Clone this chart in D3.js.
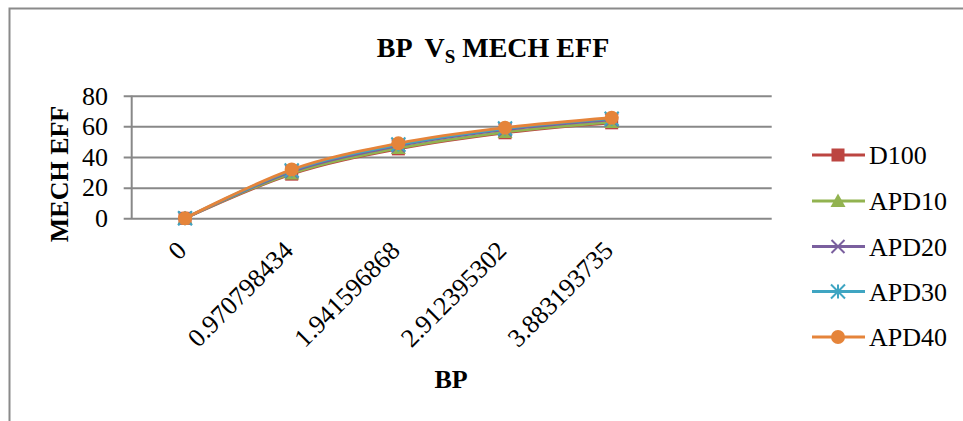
<!DOCTYPE html>
<html>
<head>
<meta charset="utf-8">
<script src="https://cdn.jsdelivr.net/npm/d3@7/dist/d3.min.js"></script>
<style>
  html, body { margin: 0; padding: 0; background: #fff; }
  svg { display: block; }
  text { font-family: "Liberation Serif", "Times New Roman", serif; fill: #000; }
</style>
</head>
<body>
<svg id="chart" width="963" height="421"></svg>
<script>
// Brake power categories (the last band is left empty)
const bpLabels = ["0", "0.970798434", "1.941596868", "2.912395302", "3.883193735", ""];
const yTicks = [0, 20, 40, 60, 80];

// Mechanical efficiency per fuel blend
const seriesNames = ["D100", "APD10", "APD20", "APD30", "APD40"];
const d100  = [0, 28.8, 45.3, 55.8, 62.3];
const apd10 = [0, 29.3, 45.8, 56.3, 62.8];
const apd20 = [0, 30.5, 47.3, 57.8, 64.2];
const apd30 = [0, 31.2, 48.2, 58.6, 65.0];
const apd40 = [0, 31.8, 48.9, 59.1, 65.6];

const seriesValues = [d100, apd10, apd20, apd30, apd40];
const colors = ["#BC4541", "#92B350", "#7A5F9E", "#3FA5C2", "#E5843A"];
const shapes = ["square", "triangle", "x", "asterisk", "circle"];

const svg = d3.select("#chart");

// outer frame
svg.append("rect")
  .attr("x", 9.5).attr("y", 8.5)
  .attr("width", 980).attr("height", 440)
  .attr("fill", "none").attr("stroke", "#8a8a8a").attr("stroke-width", 2);

const plot = { left: 131.7, right: 771.7, top: 95.7, bottom: 218.3 };

const x = d3.scaleBand().domain(bpLabels.map((d, i) => i))
  .range([plot.left, plot.right]).paddingInner(0).paddingOuter(0);
const y = d3.scaleLinear().domain([0, 80]).range([plot.bottom, plot.top]);

// horizontal gridlines with tick stubs
const yAxis = d3.axisLeft(y).tickValues(yTicks)
  .tickSize(-(plot.right - plot.left)).tickPadding(0).tickFormat("");
const gy = svg.append("g").attr("transform", `translate(${plot.left},0)`).call(yAxis);
gy.select(".domain").remove();
gy.selectAll(".tick line").attr("stroke", "#888").attr("stroke-width", 2)
  .attr("x1", -8);

// y axis line
svg.append("line")
  .attr("x1", plot.left).attr("x2", plot.left)
  .attr("y1", plot.top).attr("y2", plot.bottom)
  .attr("stroke", "#888").attr("stroke-width", 2);

// y tick labels
svg.append("g").selectAll("text").data(yTicks).join("text")
  .attr("x", 108).attr("y", d => y(d)).attr("dy", "0.34em")
  .attr("text-anchor", "end").attr("font-size", 26)
  .text(d => d);

// x tick labels, rotated
svg.append("g").selectAll("text").data(bpLabels).join("text")
  .attr("transform", (d, i) => `translate(${x(i) + x.bandwidth() / 2 + 3},252) rotate(-45)`)
  .attr("text-anchor", "end").attr("font-size", 26)
  .text(d => d);

// titles
const title = svg.append("text")
  .attr("x", 493).attr("y", 57).attr("text-anchor", "middle")
  .attr("font-size", 28).attr("font-weight", "bold")
  .style("white-space", "pre");
title.append("tspan").text("BP  V");
title.append("tspan").attr("font-size", 19).attr("dy", 6).text("S");
title.append("tspan").attr("dy", -6).text(" MECH EFF");

svg.append("text")
  .attr("transform", "translate(68,174) rotate(-90)")
  .attr("text-anchor", "middle").attr("font-size", 26).attr("font-weight", "bold")
  .text("MECH EFF");

svg.append("text")
  .attr("x", 451).attr("y", 388).attr("text-anchor", "middle")
  .attr("font-size", 26).attr("font-weight", "bold")
  .text("BP");

// marker drawing
function drawMarker(g, shape, color, cx, cy) {
  if (shape === "square") {
    g.append("rect").attr("x", cx - 6.5).attr("y", cy - 6.5)
      .attr("width", 13).attr("height", 13).attr("fill", color);
  } else if (shape === "triangle") {
    g.append("path")
      .attr("d", `M${cx},${cy - 7.5}L${cx + 7.5},${cy + 6}L${cx - 7.5},${cy + 6}Z`)
      .attr("fill", color);
  } else if (shape === "x") {
    g.append("path")
      .attr("d", `M${cx - 6.5},${cy - 6.5}L${cx + 6.5},${cy + 6.5}M${cx - 6.5},${cy + 6.5}L${cx + 6.5},${cy - 6.5}`)
      .attr("stroke", color).attr("stroke-width", 2).attr("fill", "none");
  } else if (shape === "asterisk") {
    g.append("path")
      .attr("d", `M${cx - 7},${cy - 7}L${cx + 7},${cy + 7}M${cx - 7},${cy + 7}L${cx + 7},${cy - 7}M${cx},${cy - 7}L${cx},${cy + 7}`)
      .attr("stroke", color).attr("stroke-width", 2).attr("fill", "none");
  } else {
    g.append("circle").attr("cx", cx).attr("cy", cy).attr("r", 7).attr("fill", color);
  }
}

// series lines and markers
const line = d3.line()
  .x((d, i) => x(i) + x.bandwidth() / 2)
  .y(d => y(d))
  .curve(d3.curveCardinal.tension(0));

seriesValues.forEach((vals, s) => {
  const g = svg.append("g");
  g.append("path").datum(vals).attr("d", line)
    .attr("fill", "none").attr("stroke", colors[s]).attr("stroke-width", 2.8);
  vals.forEach((v, i) => drawMarker(g, shapes[s], colors[s], x(i) + x.bandwidth() / 2, y(v)));
});

// legend
const legendY = [155, 201, 246.5, 291.5, 337];
seriesNames.forEach((name, s) => {
  const g = svg.append("g");
  const ly = legendY[s];
  g.append("line").attr("x1", 812).attr("x2", 865).attr("y1", ly).attr("y2", ly)
    .attr("stroke", colors[s]).attr("stroke-width", 2.8);
  drawMarker(g, shapes[s], colors[s], 838, ly);
  g.append("text").attr("x", 869).attr("y", ly).attr("dy", "0.35em")
    .attr("font-size", 26).text(name);
});
</script>
</body>
</html>
